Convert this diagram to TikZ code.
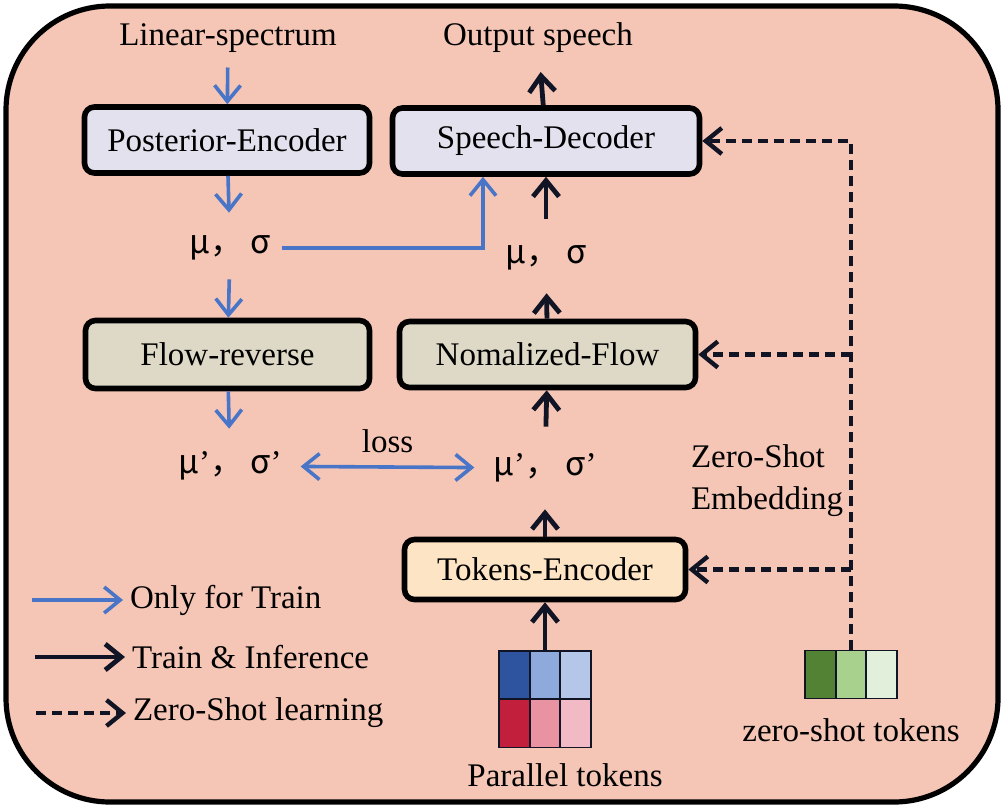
\documentclass[tikz,border=0pt]{standalone}
\usepackage{fontspec}
\setmainfont{Liberation Serif}
\newfontfamily\cjk{Noto Sans CJK SC}
\usepackage{tikz}
\usetikzlibrary{positioning}
\usetikzlibrary{arrows.meta}

\definecolor{bgpink}{RGB}{245,198,181}
\definecolor{lavender}{RGB}{228,225,238}
\definecolor{flowgray}{RGB}{222,217,199}
\definecolor{tokpeach}{RGB}{253,228,197}
\definecolor{trainblue}{RGB}{72,117,199}
\definecolor{inkblack}{RGB}{16,20,36}
\definecolor{blueA}{RGB}{46,84,160}
\definecolor{blueB}{RGB}{142,170,220}
\definecolor{blueC}{RGB}{180,199,232}
\definecolor{redA}{RGB}{193,31,60}
\definecolor{redB}{RGB}{232,146,162}
\definecolor{redC}{RGB}{241,186,197}
\definecolor{greenA}{RGB}{84,130,53}
\definecolor{greenB}{RGB}{169,209,142}
\definecolor{greenC}{RGB}{226,239,218}

\begin{document}
\begin{tikzpicture}[x=0.5pt,y=-0.5pt,->,>={Straight Barb[length=8pt,width=13pt]},
                    font=\fontsize{16.5}{21}\selectfont,
                    main node/.style={draw=black,line width=2.8pt,rounded corners=5pt,minimum height=33pt,inner sep=0pt},
                    train/.style={trainblue,line width=1.8pt},
                    infer/.style={inkblack,line width=2.4pt},
                    zeroshot/.style={inkblack,line width=2.2pt,dash pattern=on 5pt off 3pt},
                    token/.style={draw=inkblack,line width=0.9pt,minimum width=15.3pt,minimum height=24pt,inner sep=0pt}]

  \useasboundingbox (0,0) rectangle (1004,808);
  \draw[-,fill=bgpink,line width=2.6pt,rounded corners=52pt] (6,6) rectangle (998,802);

  % blocks
  \node[main node,fill=lavender,minimum width=142.5pt] (post) at (227,140) {Posterior-Encoder};
  \node[main node,fill=lavender,minimum width=153.5pt] (dec) at (546,141) {Speech-Decoder};
  \node[main node,fill=flowgray,minimum width=142pt,minimum height=34pt] (rev) at (227.5,354.5) {Flow-reverse};
  \node[main node,fill=flowgray,minimum width=148pt,minimum height=33pt] (flow) at (547.5,354.5) {Nomalized-Flow};
  \node[main node,fill=tokpeach,minimum width=140.5pt,minimum height=30pt] (enc) at (545,569.5) {Tokens-Encoder};

  % texts
  \node (spec) at (228,38) {Linear-spectrum};
  \node (out) at (538,38) {Output speech};
  \node (ms1) at (230,248) {\cjk μ， σ};
  \node (ms2) at (546,258) {\cjk μ， σ};
  \node (msr1) at (230,466) {{\cjk μ}’{\cjk ， σ}’};
  \node (msr2) at (545,468) {{\cjk μ}’{\cjk ， σ}’};
  \node (zse) [align=left,anchor=west] at (684,481) {Zero-Shot\\Embedding};

  % tokens
  \node[token,fill=blueA] (p1) at (514.3,675) {};
  \node[token,fill=blueB] (p2) at (545,675) {};
  \node[token,fill=blueC] (p3) at (575.7,675) {};
  \node[token,fill=redA] (p4) at (514.3,723.5) {};
  \node[token,fill=redB] (p5) at (545,723.5) {};
  \node[token,fill=redC] (p6) at (575.7,723.5) {};
  \node[token,fill=greenA] (z1) at (820.3,674.5) {};
  \node[token,fill=greenB] (z2) at (851,674.5) {};
  \node[token,fill=greenC] (z3) at (881.7,674.5) {};
  \node (ptok) at (565,775) {Parallel tokens};
  \node (ztok) at (851,730) {zero-shot tokens};

  % only for train
  \draw[train,shorten <=4pt] (spec) -- (post);
  \draw[train,shorten >=8pt] (post) -- (ms1);
  \draw[train,shorten <=6pt] (ms1) -- (rev);
  \draw[train,shorten >=8pt] (rev) -- (msr1);
  \draw[train,shorten <=2pt] (ms1.east) -| ([xshift=-31.5pt]dec.south);
  \draw[train,<->,shorten <=6pt,shorten >=6pt] (msr1) -- node[above,text=black,yshift=3pt] {loss} (msr2);

  % train and inference
  \draw[infer,shorten >=6pt] (dec) -- (out);
  \draw[infer,shorten <=10pt] (ms2) -- (dec);
  \draw[infer,shorten >=8pt] (flow) -- (ms2);
  \draw[infer,shorten <=10pt] (msr2) -- (flow);
  \draw[infer,shorten >=10pt] (enc) -- (msr2);
  \draw[infer] (p2.north) -- (enc);

  % zero-shot
  \draw[zeroshot] (z2.north) |- (dec.east);
  \draw[zeroshot] (z2.north |- flow.east) -- (flow.east);
  \draw[zeroshot] (z2.north |- enc.east) -- (enc.east);

  % legend
  \node[anchor=west] (leg1) at (123,600) {Only for Train};
  \node[anchor=west] (leg2) at (125,657) {Train \& Inference};
  \node[anchor=west] (leg3) at (126,713) {Zero-Shot learning};
  \coordinate (leg1s) at (32,600);
  \coordinate (leg2s) at (35,657);
  \coordinate (leg3s) at (36,713);
  \draw[train] (leg1s) -- (leg1.west);
  \draw[infer] (leg2s) -- (leg2.west);
  \draw[zeroshot] (leg3s) -- (leg3.west);
\end{tikzpicture}
\end{document}
